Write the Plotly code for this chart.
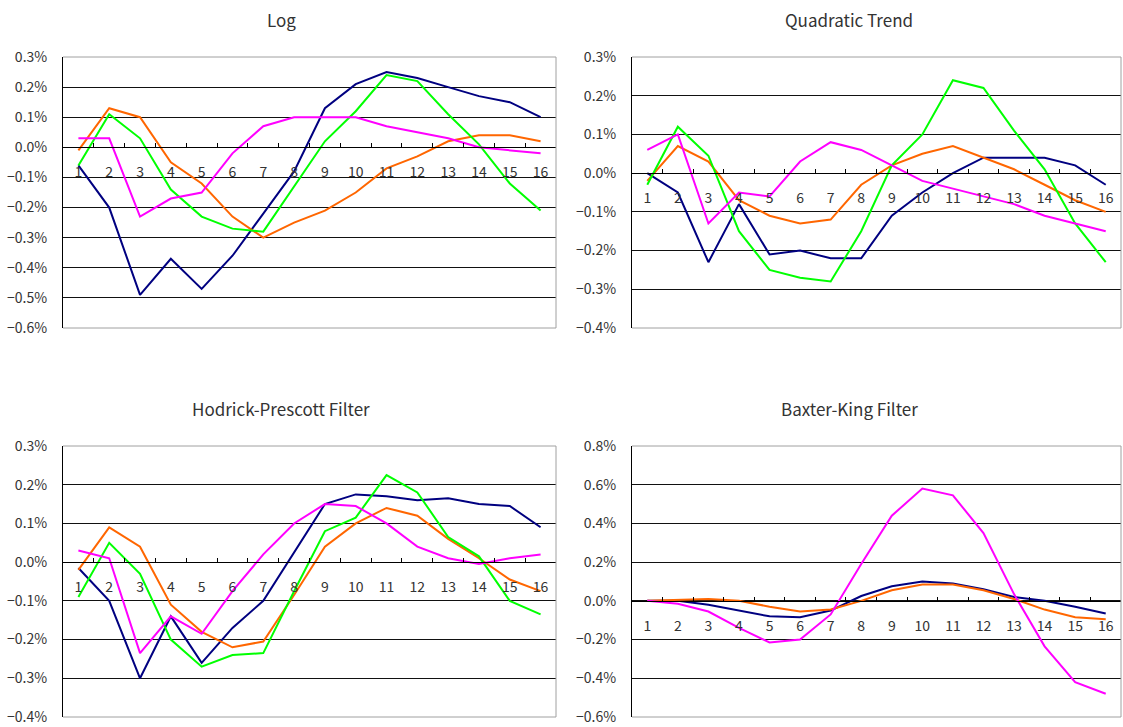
import plotly.graph_objects as go

# Category labels along the horizontal axis
categories = ["1", "2", "3", "4", "5", "6", "7", "8",
              "9", "10", "11", "12", "13", "14", "15", "16"]

# Values in percent, one list per series and panel
log_navy = [-0.06, -0.20, -0.49, -0.37, -0.47, -0.36, -0.22, -0.08,
            0.13, 0.21, 0.25, 0.23, 0.20, 0.17, 0.15, 0.10]
log_orange = [-0.01, 0.13, 0.10, -0.05, -0.12, -0.23, -0.30, -0.25,
              -0.21, -0.15, -0.07, -0.03, 0.02, 0.04, 0.04, 0.02]
log_green = [-0.06, 0.11, 0.03, -0.14, -0.23, -0.27, -0.28, -0.13,
             0.02, 0.12, 0.24, 0.22, 0.11, 0.01, -0.12, -0.21]
log_magenta = [0.03, 0.03, -0.23, -0.17, -0.15, -0.02, 0.07, 0.10,
               0.10, 0.10, 0.07, 0.05, 0.03, 0.00, -0.01, -0.02]

qt_navy = [0.00, -0.05, -0.23, -0.08, -0.21, -0.20, -0.22, -0.22,
           -0.11, -0.05, 0.00, 0.04, 0.04, 0.04, 0.02, -0.03]
qt_orange = [-0.02, 0.07, 0.03, -0.07, -0.11, -0.13, -0.12, -0.03,
             0.02, 0.05, 0.07, 0.04, 0.01, -0.03, -0.07, -0.10]
qt_green = [-0.03, 0.12, 0.045, -0.15, -0.25, -0.27, -0.28, -0.15,
            0.02, 0.10, 0.24, 0.22, 0.11, 0.01, -0.13, -0.23]
qt_magenta = [0.06, 0.10, -0.13, -0.05, -0.06, 0.03, 0.08, 0.06,
              0.02, -0.02, -0.04, -0.06, -0.08, -0.11, -0.13, -0.15]

hp_navy = [-0.015, -0.10, -0.30, -0.14, -0.26, -0.17, -0.10, 0.025,
           0.15, 0.175, 0.17, 0.16, 0.165, 0.15, 0.145, 0.09]
hp_orange = [-0.02, 0.09, 0.04, -0.11, -0.18, -0.22, -0.205, -0.085,
             0.04, 0.10, 0.14, 0.12, 0.06, 0.01, -0.045, -0.075]
hp_green = [-0.09, 0.05, -0.03, -0.20, -0.27, -0.24, -0.235, -0.075,
            0.08, 0.115, 0.225, 0.18, 0.065, 0.015, -0.10, -0.135]
hp_magenta = [0.03, 0.01, -0.235, -0.14, -0.185, -0.075, 0.02, 0.10,
              0.15, 0.145, 0.10, 0.04, 0.01, -0.005, 0.01, 0.02]

bk_navy = [0.00, 0.00, -0.02, -0.05, -0.08, -0.085, -0.05, 0.025,
           0.075, 0.10, 0.09, 0.06, 0.02, 0.00, -0.03, -0.065]
bk_orange = [0.00, 0.005, 0.01, 0.00, -0.03, -0.055, -0.045, 0.00,
             0.055, 0.085, 0.085, 0.055, 0.01, -0.045, -0.085, -0.095]
bk_magenta = [0.00, -0.015, -0.055, -0.14, -0.215, -0.20, -0.07, 0.19,
              0.44, 0.58, 0.545, 0.35, 0.035, -0.235, -0.42, -0.48]

series_colors = {"navy": "#000080", "orange": "#FF6600",
                 "green": "#00FF00", "magenta": "#FF00FF"}

W, H = 1123, 727
FONT = "Noto Sans CJK JP, Noto Sans, sans-serif"
BORDER = "#a0a0a0"

panels = [
    dict(title="Log", box=(63, 57, 556, 328), title_pos=(281, 20),
         yrange=(-0.6, 0.3), dtick=0.1,
         series=[("navy", log_navy), ("orange", log_orange),
                 ("green", log_green), ("magenta", log_magenta)]),
    dict(title="Quadratic Trend", box=(632, 57, 1121, 328), title_pos=(849, 20),
         yrange=(-0.4, 0.3), dtick=0.1,
         series=[("navy", qt_navy), ("orange", qt_orange),
                 ("green", qt_green), ("magenta", qt_magenta)]),
    dict(title="Hodrick-Prescott Filter", box=(63, 446, 556, 717), title_pos=(281, 408),
         yrange=(-0.4, 0.3), dtick=0.1,
         series=[("navy", hp_navy), ("orange", hp_orange),
                 ("green", hp_green), ("magenta", hp_magenta)]),
    dict(title="Baxter-King Filter", box=(632, 446, 1121, 717), title_pos=(849, 408),
         yrange=(-0.6, 0.8), dtick=0.2,
         series=[("navy", bk_navy), ("orange", bk_orange),
                 ("magenta", bk_magenta)]),
]

fig = go.Figure()
layout = dict(template="none", width=W, height=H, autosize=False,
              margin=dict(l=0, r=0, t=0, b=0, pad=0, autoexpand=False),
              paper_bgcolor="white", plot_bgcolor="white",
              showlegend=False, font=dict(family=FONT, color="#333333"),
              shapes=[], annotations=[])

for i, p in enumerate(panels, start=1):
    sfx = "" if i == 1 else str(i)
    x0, y0, x1, y1 = p["box"]
    xd = [x0 / W, x1 / W]
    yd = [1 - y1 / H, 1 - y0 / H]
    lo, hi = p["yrange"]
    zero_pos = yd[0] + (0 - lo) / (hi - lo) * (yd[1] - yd[0])
    xa, ya = "x" + sfx, "y" + sfx
    for name, vals in p["series"]:
        fig.add_trace(go.Scatter(x=categories, y=vals, mode="lines", name=name,
                                 xaxis=xa, yaxis=ya,
                                 line=dict(color=series_colors[name], width=2)))
    layout["xaxis" + sfx] = dict(
        domain=xd, type="category", categoryorder="array",
        categoryarray=categories, range=[-0.5, 15.5], automargin=False,
        anchor="free", position=zero_pos, side="bottom",
        tickson="boundaries", ticks="inside", ticklen=4, tickcolor="black",
        showline=True, linecolor="black", linewidth=1, showgrid=False,
        zeroline=False, tickfont=dict(size=14, color="#333333"),
        ticklabelstandoff=12)
    layout["yaxis" + sfx] = dict(
        domain=yd, anchor=xa, range=[lo - 1e-9, hi + 1e-9], tick0=0,
        dtick=p["dtick"], tickformat=".1f", ticksuffix="%", automargin=False,
        showgrid=True, gridcolor="#111111", gridwidth=1, zeroline=False,
        showline=True, linecolor="black", linewidth=1, ticks="",
        tickfont=dict(size=14, color="#333333"), ticklabelstandoff=12)
    # gray plot-area frame on the top, right and bottom edges
    for (fx0, fy0, fx1, fy1) in [(0, 1, 1, 1), (1, 0, 1, 1), (0, 0, 1, 0)]:
        layout["shapes"].append(dict(type="line", xref=f"{xa} domain",
                                     yref=f"{ya} domain", x0=fx0, y0=fy0,
                                     x1=fx1, y1=fy1, layer="above",
                                     line=dict(color=BORDER, width=1)))
    tx, ty = p["title_pos"]
    layout["annotations"].append(dict(text=p["title"], xref="paper", yref="paper",
                                      x=tx / W, y=1 - ty / H, xanchor="center",
                                      yanchor="middle", showarrow=False,
                                      font=dict(size=17, color="#333333")))

fig.update_layout(**layout)
fig.write_html("out.html")
